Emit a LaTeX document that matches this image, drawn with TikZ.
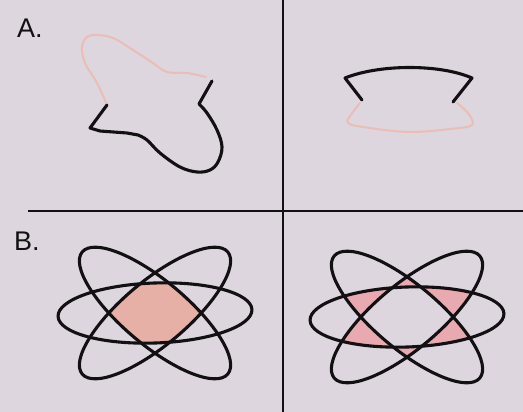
\documentclass[tikz,border=0pt]{standalone}
\usepackage{fontspec}
\setmainfont{Liberation Sans}
\usepackage{tikz}

\definecolor{paper}{RGB}{221,214,222}
\definecolor{salmon}{RGB}{230,176,166}
\definecolor{rose}{RGB}{232,170,176}
\definecolor{faint}{RGB}{234,190,182}
\definecolor{ink}{RGB}{18,16,18}

% the three orbits, centred on a named coordinate
\newcommand{\flatorb}[1]{(#1) ellipse [x radius=97, y radius=30, rotate=2]}
\newcommand{\backorb}[1]{(#1) ellipse [x radius=95, y radius=32, rotate=-40]}
\newcommand{\fwdorb}[1]{(#1) ellipse [x radius=95, y radius=32, rotate=40]}

\begin{document}
\begin{tikzpicture}[x=1pt, y=-1pt,
    orbit/.style = {draw=ink, line width=3.1pt},
    rule/.style = {draw=ink, line width=2.8pt},
    solid part/.style = {draw=ink, line width=3.1pt, line join=round, line cap=round},
    ghost part/.style = {draw=faint, line width=2pt, line join=round, line cap=round},
    panel label/.style = {text=ink, font=\fontsize{27}{30}\selectfont, inner sep=0pt, anchor=base west}]
    \useasboundingbox (0,0) rectangle (523,412);
    \fill[paper] (0,0) rectangle (523,412);

    % panel dividers
    \coordinate (vtop) at (283,0);
    \coordinate (vbot) at (283,412);
    \coordinate (hleft) at (28,211);
    \coordinate (hright) at (523,211);
    \draw[rule] (vtop) -- (vbot);
    \draw[rule, line width=2.4pt] (hleft) -- (hright);

    \node[panel label] (labA) at (17,38) {A.};
    \node[panel label] (labB) at (14,250) {B.};

    % A, left: tilted lobe with two spikes
    \draw[ghost part] plot[smooth, tension=0.6] coordinates {(107,105) (97,83) (85,63) (82,47) (87,37) (97,35) (113,38) (133,50) (153,63) (167,72) (187,73) (206,77)};
    \draw[solid part] (212,81) -- (199,104)
        plot[smooth, tension=0.6] coordinates {(199,104) (207,113) (217,130) (222,147) (218,162) (210,170) (197,172) (180,167) (160,153) (147,140) (138,135)}
        -- (127,133) -- (100,131) -- (90,128) -- (107,105);

    % A, right: arched top over a faint base
    \draw[ghost part] plot[smooth, tension=0.6] coordinates {(360,103) (353,112) (348,123) (370,128) (410,132) (450,129) (472,125) (468,113) (457,103)};
    \draw[solid part] (362,100) -- (345,78) .. controls (380,64) and (440,64) .. (472,78) -- (453,102);

    % B, left: shared core
    \coordinate (bl) at (155,313);
    \begin{scope}
        \clip \flatorb{bl};
        \clip \backorb{bl};
        \fill[salmon] \fwdorb{bl};
    \end{scope}
    \draw[orbit] \flatorb{bl};
    \draw[orbit] \backorb{bl};
    \draw[orbit] \fwdorb{bl};

    % B, right: pairwise overlaps only
    \coordinate (br) at (407,317);
    \begin{scope}
        \clip \flatorb{br};
        \fill[rose, even odd rule] \backorb{br} \fwdorb{br};
    \end{scope}
    \begin{scope}
        \clip \backorb{br};
        \clip \fwdorb{br};
        \fill[rose, even odd rule] (290,215) rectangle (523,412) \flatorb{br};
    \end{scope}
    \draw[orbit] \flatorb{br};
    \draw[orbit] \backorb{br};
    \draw[orbit] \fwdorb{br};
\end{tikzpicture}
\end{document}
